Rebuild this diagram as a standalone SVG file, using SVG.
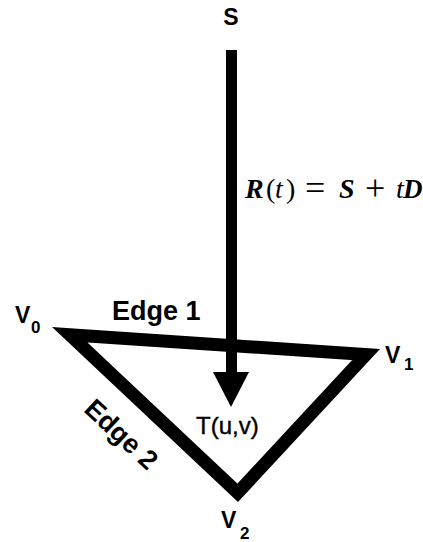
<svg xmlns="http://www.w3.org/2000/svg" width="423" height="542" viewBox="0 0 423 542">
<style>
.lbl{font-family:"Liberation Sans",Arial,sans-serif;font-weight:bold;fill:#000}
.sub{font-family:"Liberation Sans",Arial,sans-serif;font-weight:bold;font-size:17px;fill:#000}
.m{font-family:"Liberation Serif","Times New Roman",serif;font-size:28px;fill:#000}
.op{font-size:36px}
.bi{font-weight:bold;font-style:italic}
.it{font-style:italic}
</style>
<rect width="423" height="542" fill="#fff"/>
<g id="triangle">
<polygon points="69.7,334.7 366,354.6 237.7,492.8" fill="none" stroke="#000" stroke-width="13" stroke-linejoin="miter"/>
</g>
<g id="connectors">
<rect x="226" y="50" width="11" height="325" fill="#000"/>
<polygon points="213,372 249,372 231,407" fill="#000"/>
</g>
<g id="source">
<text class="lbl" x="231" y="25" font-size="23" text-anchor="middle">S</text>
</g>
<g id="ray-label">
<text class="m" y="198"><tspan class="bi" x="245">R</tspan><tspan x="266">(</tspan><tspan class="it" x="275">t</tspan><tspan x="286">)</tspan><tspan class="op" x="305" y="200">=</tspan><tspan class="bi" x="339" y="198">S</tspan><tspan class="op" x="365" y="200">+</tspan><tspan class="it" x="396" y="198">t</tspan><tspan class="bi" x="403" font-size="27">D</tspan></text>
</g>
<g id="v0">
<text class="lbl" x="15" y="323" font-size="23">V</text>
<text class="sub" x="31" y="333">0</text>
</g>
<g id="v1">
<text class="lbl" x="385" y="363" font-size="23">V</text>
<text class="sub" x="404" y="370">1</text>
</g>
<g id="v2">
<text class="lbl" x="221" y="528" font-size="23">V</text>
<text class="sub" x="240" y="539">2</text>
</g>
<g id="edge1">
<text class="lbl" x="112" y="320" font-size="27">Edge 1</text>
</g>
<g id="edge2">
<text class="lbl" x="115" y="441" font-size="27" text-anchor="middle" transform="rotate(43 115 441)">Edge 2</text>
</g>
<g id="point">
<text x="196" y="434" font-family="'Liberation Sans',Arial,sans-serif" font-size="24" fill="#000" stroke="#000" stroke-width="0.4">T(u,v)</text>
</g>
</svg>
